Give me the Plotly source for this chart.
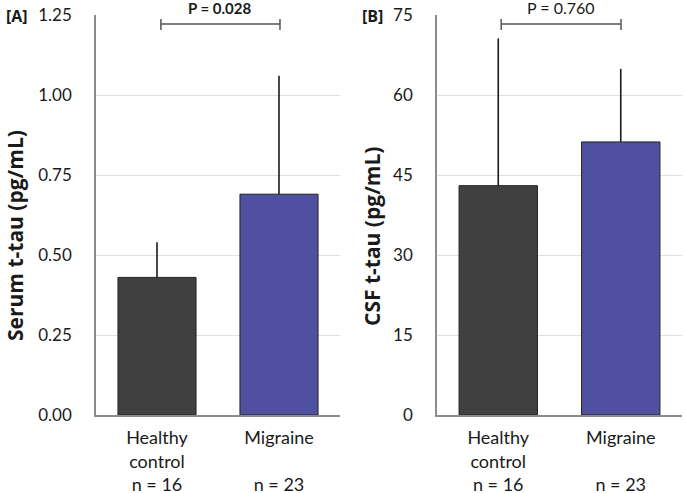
import plotly.graph_objects as go

categories = ["Healthy<br>control<br>n = 16", "Migraine<br><br>n = 23"]
serum_mean = [0.43, 0.69]
serum_sd = [0.11, 0.37]
csf_mean = [43.0, 51.2]
csf_sd = [27.6, 13.7]
bar_colors = ["#404040", "#5050a0"]
serum_ticks = [0, 0.25, 0.5, 0.75, 1.0, 1.25]
serum_ticktext = ["0.00", "0.25", "0.50", "0.75", "1.00", "1.25"]
csf_ticks = [0, 15, 30, 45, 60, 75]

W, H = 685, 493
ML, MR, MT, MB = 96, 3, 15, 78
PW = W - ML - MR
PH = H - MT - MB

def px_x(p):
    return (p - ML) / PW

def px_y(p):
    return 1 - (p - MT) / PH

fig = go.Figure()
fig.add_trace(go.Bar(
    x=categories, y=serum_mean, xaxis="x", yaxis="y",
    marker=dict(color=bar_colors, line=dict(color="#222222", width=1)),
    error_y=dict(type="data", symmetric=False, array=serum_sd, arrayminus=[0, 0],
                 width=0, thickness=1.6, color="#1a1a1a"),
    showlegend=False, hoverinfo="skip"))
fig.add_trace(go.Bar(
    x=categories, y=csf_mean, xaxis="x2", yaxis="y2",
    marker=dict(color=bar_colors, line=dict(color="#222222", width=1)),
    error_y=dict(type="data", symmetric=False, array=csf_sd, arrayminus=[0, 0],
                 width=0, thickness=1.6, color="#1a1a1a"),
    showlegend=False, hoverinfo="skip"))

tickfont = dict(family="Lato", size=17, color="#1a1a1a")
xfont = dict(family="Lato", size=18, color="#1a1a1a")
common_y = dict(showline=True, linecolor="#8c8c8c", linewidth=1.5, showgrid=True,
                gridcolor="#e0e0e0", gridwidth=1, ticks="", tickfont=tickfont,
                zeroline=False, ticklabelstandoff=19, automargin=False)
common_x = dict(showline=True, linecolor="#8c8c8c", linewidth=1.5, showgrid=False,
                ticks="", tickfont=xfont, automargin=False, ticklabelstandoff=6)

fig.update_layout(
    width=W, height=H,
    margin=dict(l=ML, r=MR, t=MT, b=MB),
    paper_bgcolor="white", plot_bgcolor="white",
    bargap=0.36,
    xaxis=dict(domain=[0, px_x(340)], anchor="y", **common_x),
    yaxis=dict(range=[0, 1.25], tickvals=serum_ticks, ticktext=serum_ticktext,
               anchor="x", **common_y),
    xaxis2=dict(domain=[px_x(437), 1], anchor="y2", **common_x),
    yaxis2=dict(range=[0, 75], tickvals=csf_ticks, anchor="x2", **common_y),
)

def bracket(xref, yref, x0, x1, label, bold):
    yl = 0.9775
    fig.add_shape(type="line", xref=xref, yref=yref, x0=x0, x1=x1, y0=yl, y1=yl,
                  line=dict(color="#555555", width=1.5))
    for xx in (x0, x1):
        fig.add_shape(type="line", xref=xref, yref=yref, x0=xx, x1=xx,
                      y0=0.9625, y1=0.99, line=dict(color="#555555", width=1.5))
    txt = f"<b>{label}</b>" if bold else label
    fig.add_annotation(xref=xref, yref=yref, x=(x0 + x1) / 2, y=1.0175,
                       text=txt, showarrow=False, xanchor="center", yanchor="middle",
                       font=dict(family="Lato", size=15 if bold else 16, color="#1a1a1a"))

bracket("x domain", "y domain", 0.266, 0.754, "P = 0.028", True)
bracket("x2 domain", "y2 domain", 0.262, 0.751, "P = 0.760", False)

def label(x, y, text, size, angle=0):
    fig.add_annotation(xref="paper", yref="paper", x=px_x(x), y=px_y(y),
                       text=text, showarrow=False, textangle=angle,
                       xanchor="center", yanchor="middle",
                       font=dict(family="Open Sans", size=size, color="#1a1a1a"))

label(17, 16, "<b>[A]</b>", 16)
label(372, 16, "<b>[B]</b>", 16)
label(15, 236, "<b>Serum t-tau (pg/mL)</b>", 21, -90)
label(372, 237, "<b>CSF t-tau (pg/mL)</b>", 21, -90)

fig.write_html("out.html", post_script="document.body.style.margin='0';",
               config={"displayModeBar": False})
